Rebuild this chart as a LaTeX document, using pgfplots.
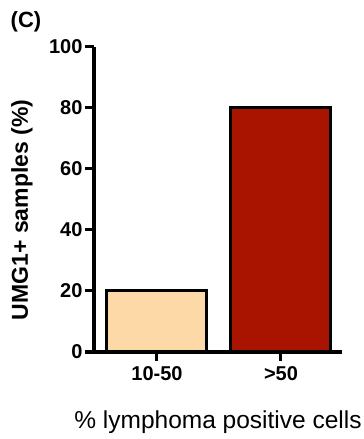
\documentclass[border=0pt]{standalone}
\usepackage{pgfplots}
\pgfplotsset{compat=1.18}
\usepackage{fontspec}
\setmainfont{Liberation Sans}
\definecolor{peach}{RGB}{253,217,168}
\definecolor{darkred}{RGB}{168,20,0}
\begin{document}
\begin{tikzpicture}[x=1pt,y=1pt]
\useasboundingbox (0,0) rectangle (364,439);
\begin{axis}[
  at={(94pt,87pt)}, anchor=south west,
  scale only axis, width=248pt, height=305pt,
  xmin=-0.508, xmax=1.492, ymin=0, ymax=100,
  axis lines=left,
  axis line style={-, line width=4pt, black},
  xtick={0,1}, xticklabels={10-50,{>50}},
  ytick={0,20,40,60,80,100},
  tick align=outside,
  major tick length=9pt,
  tick style={line width=3pt, black},
  tick label style={font=\bfseries\fontsize{20}{24}\selectfont},
  /pgf/number format/assume math mode=true,
  yticklabel style={xshift=1pt},
  xticklabel style={yshift=-2pt},
  clip=false,
]
\addplot[ybar, bar width=100pt, fill=peach, draw=black, line width=3pt] coordinates {(0,20)};
\addplot[ybar, bar width=100pt, fill=darkred, draw=black, line width=3pt] coordinates {(1,80)};
\end{axis}
\node[font=\bfseries\fontsize{22}{22}\selectfont] at (26,417) {(C)};
\node[rotate=90, font=\bfseries\fontsize{23}{23}\selectfont] at (22,229) {UMG1+ samples (\%)};
\node[font=\fontsize{24.5}{24.5}\selectfont] at (218,17) {\% lymphoma positive cells};
\end{tikzpicture}
\end{document}
